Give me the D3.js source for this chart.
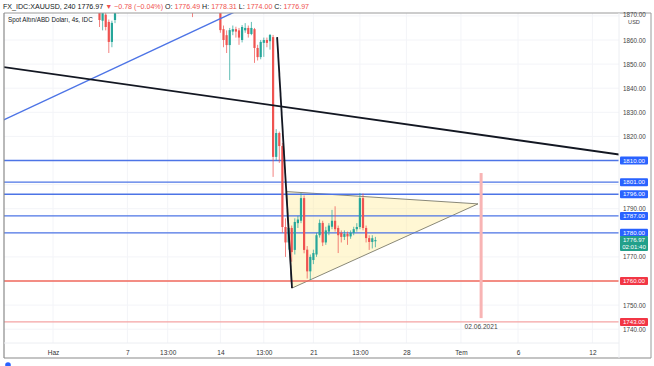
<!DOCTYPE html>
<html><head><meta charset="utf-8">
<script src="https://cdn.jsdelivr.net/npm/d3@7"></script>
<style>
html,body{margin:0;padding:0;background:#fff;overflow:hidden;}
svg{display:block;font-family:"Liberation Sans",Arial,sans-serif;}
</style></head>
<body><svg id="c" width="654" height="366"></svg>
<script>
// ---- data ----
const barIndex = [15,16,17,18,19,20,21,45,
  54,55,56,57,58,59,60,61,62,63,64,65,66,67,68,69,70,71,72,73,74,75,76,77,78,79,
  80,81,82,83,84,85,86,87,88,89,90,91,92,93,94,95,96,97,98,99,100,101,102,103,104];
const opens = [1872,1868,1870.5,1867.5,1859.2,1868.3,1872,1878,
  1874,1864.5,1862,1857.9,1863.5,1864.5,1864,1860,1864,1865,1862.5,1864.5,1856.7,1852.9,1858.8,1860,1859.5,1861.2,1811.5,1821.4,1816,1782.4,1776,1782,1772.9,1784,
  1785,1794.4,1773,1764,1768.7,1771,1779,1784.1,1776,1780.5,1782.5,1785,1782,1780,1778.3,1779.5,1778.5,1780,1781.5,1782.4,1794.4,1782,1777.8,1776.2,1776.49];
const highs = [1874,1873,1872,1868.5,1868,1874,1878,1880,
  1876,1866,1864,1865,1866,1865.5,1865,1866.2,1867,1866,1867.5,1865,1858,1860,1861,1861,1862.5,1862.1,1823,1822,1817.3,1786,1784,1783,1786,1787,
  1796.5,1795.5,1774.5,1771,1773,1780,1785.5,1785,1782.5,1784,1789.5,1791,1783,1781,1781,1780.5,1781,1782.5,1784,1796.5,1796.3,1783,1779,1779,1778.31];
const lows = [1865.4,1864,1864,1854.6,1857,1867,1871,1869.5,
  1863,1857,1854.6,1843.4,1862,1861,1858,1859,1863,1861,1862,1850.5,1851.5,1852,1853,1857,1856,1803.2,1810,1809,1780,1770,1773,1768,1771,1782,
  1784,1771.5,1761,1760.4,1767,1770,1778,1774.5,1775,1779,1781.5,1780.5,1771.6,1776,1777,1775,1777.5,1779,1780.5,1781.5,1781,1776,1772.9,1773.5,1774.00];
const closes = [1868.3,1871.5,1865.4,1859.2,1867.1,1872,1876,1876,
  1864.1,1860,1857.9,1864.1,1864.5,1863.5,1861,1865.4,1865,1862.5,1865,1856.7,1852.9,1859.2,1860,1858.8,1862.1,1811.5,1821.4,1816,1782.4,1776,1782,1772,1784.5,1785.5,
  1794.4,1772.9,1764,1770,1771.6,1779,1784.1,1776,1781,1783,1785,1781.5,1779,1778.3,1779.5,1778.5,1780,1781.5,1782.4,1794.4,1782,1777.8,1776.2,1777.75,1776.97];

const timeTickIndex = [0,24,37,54,68,84,99,114,131.6,150,174];
const timeTickLabels = ["Haz","7","13:00","14","13:00","21","13:00","28","Tem","6","12"];
const priceGrid = [1870,1860,1850,1840,1830,1820,1810,1800,1790,1780,1770,1760,1750,1740];
const priceTickLabels = [1870,1860,1850,1840,1830,1820,1790,1770,1750,1740];

const blueLevels = [1810,1801,1796,1787,1780];
const redLevels = [1760,1743];
const lastPrice = 1776.97;
const countdown = "02:01:40";

// drawings in (bar index, price)
const longTrend = [[-16,1848.8],[183,1812.4]];
const blueTrend = [[-16,1826.8],[80,1884.5]];
const steepLine = [[72.3,1861.2],[77.1,1757.1]];
const triangle = [[75.4,1797.1],[137.1,1792],[77.0,1757.0]];
const vLine = {i:138.1, p1:1804.8, p2:1744.6, label:"02.06.2021"};

const headerParts = [
  {t:"FX_IDC:XAUUSD, 240  1776.97 ", c:"#131722"},
  {t:"\u25BC \u22120.78 (\u22120.04%) ", c:"#ef5350"},
  {t:"O: ", c:"#131722"},{t:"1776.49 ", c:"#ef5350"},
  {t:"H: ", c:"#131722"},{t:"1778.31 ", c:"#ef5350"},
  {t:"L: ", c:"#131722"},{t:"1774.00 ", c:"#ef5350"},
  {t:"C: ", c:"#131722"},{t:"1776.97", c:"#ef5350"}
];

// ---- layout ----
const L = 4, R = 619, T = 13, B = 343, FR = 651, FB = 358;
const x = d3.scaleLinear().domain([0,174]).range([53, 53+174*3.1]);
const y = d3.scaleLinear().domain([1740,1860]).range([329.2, 40]);

const svg = d3.select("#c");
svg.append("defs").append("clipPath").attr("id","plot")
  .append("rect").attr("x",L).attr("y",T).attr("width",R-L).attr("height",B-T);

// header
const ht = svg.append("text").attr("x",3).attr("y",9).attr("font-size",7.1);
headerParts.forEach(p=>ht.append("tspan").attr("fill",p.c).text(p.t));

const g = svg.append("g").attr("clip-path","url(#plot)");

// grid
g.selectAll(".vg").data(timeTickIndex).join("line")
  .attr("x1",d=>x(d)).attr("x2",d=>x(d)).attr("y1",T).attr("y2",B)
  .attr("stroke","#f3f4f8").attr("stroke-width",1);
g.selectAll(".hg").data(priceGrid).join("line")
  .attr("x1",L).attr("x2",R).attr("y1",d=>y(d)).attr("y2",d=>y(d))
  .attr("stroke","#f3f4f8").attr("stroke-width",1);

// triangle
g.append("path")
  .attr("d", d3.line().x(d=>x(d[0])).y(d=>y(d[1]))(triangle)+"Z")
  .attr("fill","rgba(255,238,160,0.45)").attr("stroke","#6b6b5a").attr("stroke-width",0.8);

// horizontal levels
g.selectAll(".bl").data(blueLevels).join("line")
  .attr("x1",L).attr("x2",R).attr("y1",d=>y(d)).attr("y2",d=>y(d))
  .attr("stroke","#4d74e6").attr("stroke-width",1.3);
g.selectAll(".rl").data(redLevels).join("line")
  .attr("x1",L).attr("x2",R).attr("y1",d=>y(d)).attr("y2",d=>y(d))
  .attr("stroke",(d,i)=>i===0?"#f0685c":"#f4a3a3").attr("stroke-width",1.3);

// vertical line
g.append("line").attr("x1",x(vLine.i)).attr("x2",x(vLine.i))
  .attr("y1",y(vLine.p1)).attr("y2",y(vLine.p2))
  .attr("stroke","#f8b4b4").attr("stroke-width",3);
g.append("text").attr("x",x(vLine.i)).attr("y",y(vLine.p2)+11)
  .attr("text-anchor","middle").attr("font-size",6.6).attr("fill","#444").text(vLine.label);

// candles
const candles = barIndex.map((d,k)=>({i:d,o:opens[k],h:highs[k],l:lows[k],c:closes[k]}));
const up = "#26a69a", dn = "#ef5350";
g.selectAll(".wick").data(candles).join("line")
  .attr("x1",d=>x(d.i)).attr("x2",d=>x(d.i))
  .attr("y1",d=>y(d.h)).attr("y2",d=>y(d.l))
  .attr("stroke",d=>d.c>=d.o?up:dn).attr("stroke-width",0.9).attr("opacity",0.8);
g.selectAll(".body").data(candles).join("rect")
  .attr("x",d=>x(d.i)-1.1).attr("width",2.2)
  .attr("y",d=>y(Math.max(d.o,d.c)))
  .attr("height",d=>Math.max(0.8, Math.abs(y(d.o)-y(d.c))))
  .attr("fill",d=>d.c>=d.o?up:dn);

// trend lines
const ln = d3.line().x(d=>x(d[0])).y(d=>y(d[1]));
g.append("path").attr("d",ln(blueTrend)).attr("stroke","#4d74e6").attr("stroke-width",1.4).attr("fill","none");
g.append("path").attr("d",ln(longTrend)).attr("stroke","#131722").attr("stroke-width",1.8).attr("fill","none");
g.append("path").attr("d",ln(steepLine)).attr("stroke","#131722").attr("stroke-width",1.8).attr("fill","none");

// legend in plot
svg.append("text").attr("x",8).attr("y",22).attr("font-size",6.3).attr("fill","#131722")
  .text("Spot Altın/ABD Doları, 4s, IDC");

// frame
svg.append("line").attr("x1",L).attr("x2",FR).attr("y1",T).attr("y2",T).attr("stroke","#9a9a9a").attr("stroke-width",1);
svg.append("line").attr("x1",L).attr("x2",L).attr("y1",T).attr("y2",FB).attr("stroke","#8a8a8a").attr("stroke-width",1.2);
svg.append("line").attr("x1",L).attr("x2",FR).attr("y1",FB).attr("y2",FB).attr("stroke","#8a8a8a").attr("stroke-width",1.2);
svg.append("line").attr("x1",FR).attr("x2",FR).attr("y1",T).attr("y2",FB).attr("stroke","#9a9a9a").attr("stroke-width",1);
svg.append("line").attr("x1",R).attr("x2",R).attr("y1",T).attr("y2",FB).attr("stroke","#eceef2").attr("stroke-width",1);
svg.append("line").attr("x1",L).attr("x2",R).attr("y1",B).attr("y2",B).attr("stroke","#eceef2").attr("stroke-width",1);

// time axis
const xa = svg.append("g").attr("transform",`translate(0,${B})`)
  .call(d3.axisBottom(x).tickValues(timeTickIndex).tickSize(0).tickPadding(7)
    .tickFormat((d,k)=>timeTickLabels[k]));
xa.select(".domain").remove();
xa.selectAll("text").attr("font-size",6.5).attr("fill","#333").attr("font-family","Liberation Sans, Arial, sans-serif");

// price axis
const ya = svg.append("g").attr("transform",`translate(${R},0)`)
  .call(d3.axisRight(y).tickValues(priceTickLabels).tickSize(0).tickPadding(4)
    .tickFormat(d3.format(".2f")));
ya.select(".domain").remove();
ya.selectAll("text").attr("font-size",6.3).attr("fill","#444").attr("font-family","Liberation Sans, Arial, sans-serif");
ya.selectAll(".tick").filter(d=>d===1870).select("text").attr("dy","0.1em");
svg.append("text").attr("x",634).attr("y",23.5).attr("text-anchor","middle").attr("font-size",5.6).attr("fill","#444").text("USD");

// price labels
function tag(p, color, lines){
  const yy = y(p);
  const h = lines.length>1 ? 15 : 8;
  svg.append("rect").attr("x",R+1).attr("y",yy-4).attr("width",28).attr("height",h)
    .attr("rx",1).attr("fill",color);
  lines.forEach((t,k)=>svg.append("text").attr("x",R+15).attr("y",yy+2.2+k*7)
    .attr("text-anchor","middle").attr("font-size",6.1).attr("fill","#fff").text(t));
}
blueLevels.forEach(p=>tag(p,"#2962ff",[d3.format(".2f")(p)]));
redLevels.forEach(p=>tag(p,"#f23645",[d3.format(".2f")(p)]));
tag(lastPrice,"#22a08a",[d3.format(".2f")(lastPrice), countdown]);

// bottom caption icon
svg.append("circle").attr("cx",8).attr("cy",365).attr("r",2.8).attr("fill","#2962ff");
</script></body></html>
